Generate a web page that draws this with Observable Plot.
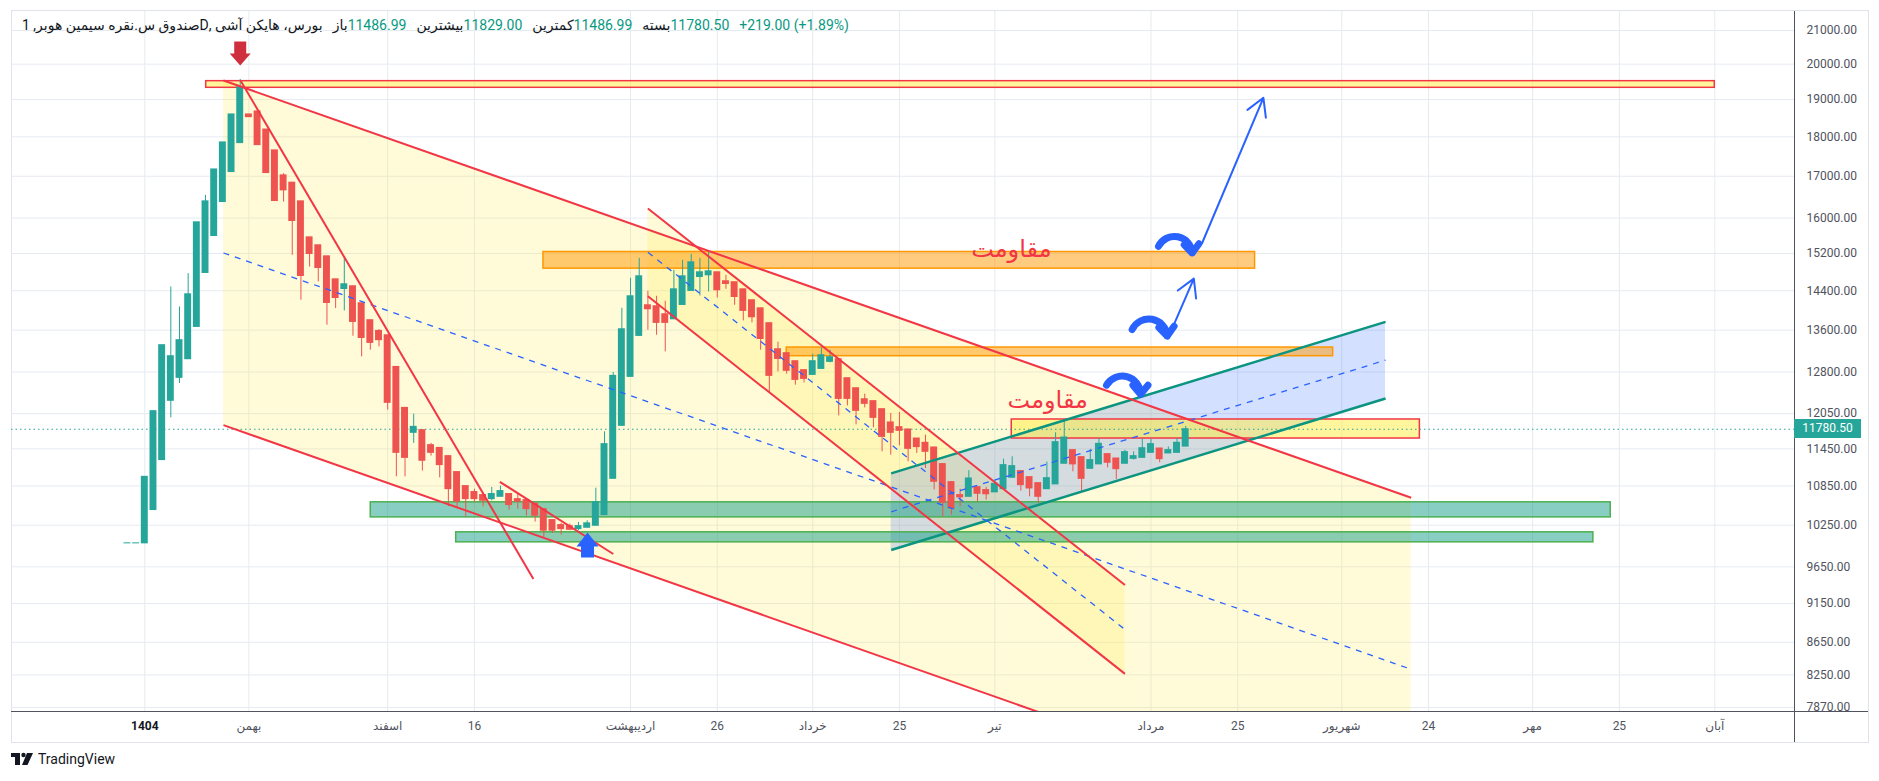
<!DOCTYPE html>
<html><head><meta charset="utf-8">
<script src="https://cdn.jsdelivr.net/npm/d3@7"></script>
<script src="https://cdn.jsdelivr.net/npm/@observablehq/plot@0.6"></script>
<style>
body{margin:0;background:#fff;}
#wrap{position:relative;width:1879px;height:781px;background:#fff;overflow:hidden;font-family:Roboto,'DejaVu Sans',sans-serif;}
#frame{position:absolute;left:11px;top:10px;width:1858px;height:733px;border:1px solid #e0e3eb;box-sizing:border-box;}
#chart{position:absolute;left:0;top:0;}
#vaxis{position:absolute;left:1794px;top:11px;width:1px;height:731px;background:#50535e;}
#haxis{position:absolute;left:11px;top:711px;width:1857px;height:1px;background:#50535e;}
#header{position:absolute;left:22px;top:17px;font-size:14px;line-height:17px;color:#131722;white-space:nowrap;display:flex;}
#header .v{color:#089981;}
#header .g{margin-left:10px;}
#price{position:absolute;left:1794px;width:67px;height:19px;background:#26a69a;color:#fff;font-size:12px;line-height:19px;text-align:center;}
#footer{position:absolute;left:11px;top:751px;display:flex;align-items:center;font-size:14px;color:#131722;}
</style></head>
<body>
<div id="wrap">
  <div id="frame"></div>
  <div id="chart"></div>
  <div id="vaxis"></div>
  <div id="haxis"></div>
  <div id="header">
    <span dir="rtl">بورس، هایکن آشی ,Dصندوق س.نقره سیمین هوبر, 1</span>
    <span class="g">باز</span><span class="v" id="hOpen"></span>
    <span class="g">بیشترین</span><span class="v" id="hHigh"></span>
    <span class="g">کمترین</span><span class="v" id="hLow"></span>
    <span class="g">بسته</span><span class="v" id="hClose"></span>
    <span class="g v" id="hChange"></span>
  </div>
  <div id="price"></div>
  <div id="footer">
    <svg width="24" height="14" viewBox="0 0 24 14"><rect x="0" y="1" width="9" height="4" fill="#131722"/><rect x="4" y="1" width="5" height="12" fill="#131722"/><circle cx="12.5" cy="3" r="2.2" fill="#131722"/><path d="M16 1 L22 1 L16.5 13 L11 13 Z" fill="#131722"/></svg>
    <span style="margin-left:3px">TradingView</span>
  </div>
</div>
<script>
// ---- Data ----
const firstIndex = -2;
const candleOpen = [9984,9984,
 9984,10478,11265,12276,12691,13039,13664,14776,15589,16376,
 17104,17837,18594,18675,18192,17650,17022,16843,16393,15559,
 15381,15137,14640,14436,14494,14141,13798,13585,13500,12894,
 12151,11719,11765,11512,11466,11330,11071,10848,10755,10708,
 10645,10681,10724,10645,10631,10574,10492,10327,10252,10237,
 10192,10212,10242,10402,10963,11838,12709,13487,14100,14080,
 13918,13816,14106,14396,14690,14726,14791,14600,14579,14430,
 14203,14038,13738,13229,13154,13002,12834,12746,12857,12989,
 13039,12685,12502,12304,12270,12128,11897,11816,11776,11623,
 11551,11473,11200,10911,10708,10681,10832,10786,10750,10800,
 10979,11087,10990,10895,10800,10875,11205,11429,11313,11123,
 11195,11363,11291,11205,11285,11301,11384,11456,11374,11384,
 11486.99];
const candleHigh = [9984,9984,
 10995,12093,13307,14479,14065,14763,15902,16535,17169,17855,
 18594,19560,18594,18675,18192,17650,17064,16843,16393,15559,
 15381,15137,14640,15122,14494,14141,13798,13613,13500,12894,
 12151,12041,11765,11541,11466,11330,11071,10848,10800,10708,
 10827,10848,10724,10720,10631,10574,10492,10327,10278,10267,
 10292,10317,10816,11736,12791,14038,14662,15093,14389,14285,
 14182,14834,15050,15181,15093,15226,14791,14726,14579,14430,
 14203,14038,13738,13365,13154,13002,12834,13134,13254,13211,
 13039,12685,12502,12395,12270,12128,12053,12071,11776,11623,
 11680,11473,11200,10911,10800,11092,10832,10827,10943,11280,
 11318,11087,10990,10895,11232,11719,11948,11429,11313,11440,
 11623,11363,11291,11429,11401,11611,11607,11456,11483,11623,
 11829];
const candleLow = [9984,9984,
 9984,10478,11265,11976,12589,13039,13664,14776,15589,16376,
 17104,17837,18521,17785,17079,16400,16376,15159,14203,14904,
 14585,13698,14032,13985,13481,13083,13211,13274,12111,10995,
 10995,11541,11087,11330,10979,10528,10503,10376,10589,10528,
 10620,10681,10478,10492,10387,10297,10071,10130,10105,10169,
 10169,10212,10242,10402,10963,11838,12709,13487,13599,13500,
 13178,13816,14106,14396,14291,14374,14249,14430,14100,13784,
 13744,13211,12418,12802,12760,12557,12599,12746,12857,12970,
 12011,12186,11856,12151,11804,11401,11346,11500,11237,11374,
 11129,10786,10376,10402,10528,10681,10605,10631,10750,10800,
 10979,10770,10681,10580,10800,10875,11205,11076,10759,11123,
 11195,11139,10953,11205,11265,11301,11384,11221,11374,11384,
 11486.99];
const candleClose = [9984,9984,
 10995,12093,13307,13096,13404,14326,15902,16393,17169,17855,
 18594,19343,18521,17785,17079,16400,16656,15932,14711,15188,
 14882,14147,14249,14536,13764,13447,13351,13404,12240,11384,
 11301,11821,11254,11384,11183,10800,10605,10645,10645,10620,
 10724,10770,10554,10605,10492,10391,10169,10169,10192,10182,
 10237,10278,10600,11529,12728,13618,14285,14705,14018,13744,
 13744,14430,14705,15006,14791,14812,14410,14542,14270,13985,
 13857,13427,12728,13044,12821,12654,12672,13002,13115,13077,
 12310,12310,12099,12222,11976,11651,11719,11753,11450,11478,
 11401,10916,10589,10503,10672,10969,10728,10720,10884,11183,
 11167,10864,10811,10681,10974,11562,11640,11195,10963,11265,
 11534,11221,11118,11396,11330,11461,11529,11280,11429,11551,
 11780.5];
const lastChange = 219.00, lastChangePct = 1.89;

const yTicks = [7870,8250,8650,9150,9650,10250,10850,11450,12050,12800,13600,14400,15200,16000,17000,18000,19000,20000,21000];
const xTickIdx = [0,12,28,38,56,66,77,87,98,116,126,138,148,160,170,181];
const xTickLabels = ["1404","بهمن","اسفند","16","اردیبهشت","26","خرداد","25","تیر","مرداد","25","شهریور","24","مهر","25","آبان"];

// drawings, in bar index / price units
const channelYellow1 = [{x:9.07, top:19533, bottom:11850},{x:146.0, top:10666, bottom:6464}];
const channelYellow2 = [{x:58, top:16224, bottom:14285},{x:113, top:9399, bottom:8263}];
const channelBlue = [{x:86.05, top:11050, bottom:9888},{x:143.04, top:13764, bottom:12317}];
const redLines = [
  {x1:9.07,y1:19533,x2:146.0,y2:10666},
  {x1:9.07,y1:11850,x2:146.0,y2:6464},
  {x1:11.03,y1:19533,x2:44.8,y2:9481},
  {x1:40.93,y1:10916,x2:54.01,y2:9831},
  {x1:58,y1:16224,x2:113,y2:9399},
  {x1:58,y1:14285,x2:113,y2:8263}
];
const dashedLines = [
  {x1:9.07,y1:15210,x2:146.0,y2:8318},
  {x1:58,y1:15226,x2:113,y2:8812},
  {x1:86.05,y1:10452,x2:143.04,y2:13021}
];
const tealLines = [
  {x1:86.05,y1:11050,x2:143.04,y2:13764},
  {x1:86.05,y1:9888,x2:143.04,y2:12317}
];
const yellowZones = [{x1:7.08,x2:181.0,y1:19326,y2:19513},{x1:99.95,x2:147.0,y1:11623,y2:11948}];
const orangeZones = [{x1:45.96,x2:128.0,y1:14869,y2:15232},{x1:74.0,x2:137.0,y1:13096,y2:13262}];
const greenZones = [{x1:26.05,x2:169.0,y1:10367,y2:10596},{x1:35.9,x2:167.0,y1:9999,y2:10145}];
const straightArrows = [{x1:121.9,y1:15432,x2:128.96,y2:19048},{x1:117.94,y1:13435,x2:120.94,y2:14655}];
const curvedArrows = [{x1:116.87,y1:15358,x2:120.75,y2:15210},{x1:113.83,y1:13613,x2:117.87,y2:13487},{x1:110.87,y1:12557,x2:114.79,y2:12395}];
const resistanceLabels = [{x:99.9,y:15291,text:"مقاومت"},{x:104.1,y:12288,text:"مقاومت"}];
const sellMarker = [{x:11,y:20311}];
const buyMarker = [{x:51.04,y:9959}];

// ---- build ----
const candles = candleOpen.map((o,k)=>({i:firstIndex+k,o,h:candleHigh[k],l:candleLow[k],c:candleClose[k]}));
const up = d => d.c >= d.o;
const GREEN="#26a69a", RED="#ef5350", LRED="#f23645";
const last = candles[candles.length-1];

const arrowDownSym = {draw(ctx){ctx.moveTo(-6,-12);ctx.lineTo(6,-12);ctx.lineTo(6,0);ctx.lineTo(10.5,0);ctx.lineTo(0,12);ctx.lineTo(-10.5,0);ctx.lineTo(-6,0);ctx.closePath();}};
const arrowUpSym = {draw(ctx){ctx.moveTo(-6.5,12.5);ctx.lineTo(6.5,12.5);ctx.lineTo(6.5,1.5);ctx.lineTo(11,1.5);ctx.lineTo(0,-12.5);ctx.lineTo(-11,1.5);ctx.lineTo(-6.5,1.5);ctx.closePath();}};

const W=1879, H=745, ML=11, MR=85, MT=11, MB=34;
const step = 8.674, x0px = 144.3;
const xDomain = [(ML - x0px)/step, (W-MR - x0px)/step];
const labelOf = new Map(xTickIdx.map((d,k)=>[d,xTickLabels[k]]));

const chart = Plot.plot({
  width:W, height:H, marginLeft:ML, marginRight:MR, marginTop:MT, marginBottom:MB,
  style:{fontFamily:"Roboto,'DejaVu Sans',sans-serif", fontSize:"12px", background:"transparent", overflow:"visible"},
  x:{type:"linear", domain:xDomain, axis:null},
  y:{type:"log", domain:[7824,21587], axis:null},
  marks:[
    Plot.gridX(xTickIdx,{stroke:"#e6ebf1", strokeOpacity:1}),
    Plot.gridY(yTicks,{stroke:"#e6ebf1", strokeOpacity:1}),
    Plot.areaY(channelYellow1,{x:"x", y1:"top", y2:"bottom", fill:"rgba(255,235,59,0.2)", clip:true}),
    Plot.areaY(channelYellow2,{x:"x", y1:"top", y2:"bottom", fill:"rgba(255,235,59,0.2)", clip:true}),
    Plot.areaY(channelBlue,{x:"x", y1:"top", y2:"bottom", fill:"rgba(41,98,255,0.2)", clip:true}),
    Plot.rect(greenZones,{x1:"x1",x2:"x2",y1:"y1",y2:"y2", fill:"rgba(8,153,129,0.48)", stroke:"#4caf50", strokeWidth:1.5}),
    Plot.rect(orangeZones,{x1:"x1",x2:"x2",y1:"y1",y2:"y2", fill:"rgba(255,152,0,0.5)", stroke:"#ff9800", strokeWidth:1.5}),
    Plot.rect(yellowZones,{x1:"x1",x2:"x2",y1:"y1",y2:"y2", fill:"rgba(255,235,59,0.5)", stroke:LRED, strokeWidth:1.5}),
    Plot.ruleY([last.c],{stroke:GREEN, strokeWidth:1.2, strokeDasharray:"1.5,3"}),
    Plot.ruleX(candles,{x:"i", y1:"l", y2:"h", stroke:d=>up(d)?GREEN:RED, strokeWidth:1}),
    Plot.rect(candles,{x1:d=>d.i-0.4, x2:d=>d.i+0.4, y1:"o", y2:"c", fill:d=>up(d)?GREEN:RED, insetTop:-0.5, insetBottom:-0.5}),
    Plot.link(tealLines,{x1:"x1",y1:"y1",x2:"x2",y2:"y2", stroke:"#0b9480", strokeWidth:2.5, clip:true}),
    Plot.link(dashedLines,{x1:"x1",y1:"y1",x2:"x2",y2:"y2", stroke:"#2962ff", strokeWidth:1.3, strokeDasharray:"6,6", clip:true}),
    Plot.link(redLines,{x1:"x1",y1:"y1",x2:"x2",y2:"y2", stroke:LRED, strokeWidth:2, clip:true}),
    Plot.arrow(straightArrows,{x1:"x1",y1:"y1",x2:"x2",y2:"y2", stroke:"#2962ff", strokeWidth:2, headLength:15, insetStart:0, insetEnd:0}),
    Plot.arrow(curvedArrows,{x1:"x1",y1:"y1",x2:"x2",y2:"y2", stroke:"#2962ff", strokeWidth:7, bend:75, headLength:13, headAngle:80, insetStart:0, insetEnd:0}),
    Plot.dot(sellMarker,{x:"x",y:"y", symbol:arrowDownSym, r:10, fill:"#cf2e3e", stroke:"none"}),
    Plot.dot(buyMarker,{x:"x",y:"y", symbol:arrowUpSym, r:10, fill:"#2962ff", stroke:"none"}),
    Plot.text(resistanceLabels,{x:"x",y:"y",text:"text", fill:LRED, fontSize:24, fontFamily:"'DejaVu Sans',sans-serif"}),
    Plot.axisY(yTicks,{anchor:"right", tickSize:0, tickPadding:12, tickFormat:d=>d.toFixed(2), fill:"#50535e", fontSize:12}),
    Plot.axisX(xTickIdx,{anchor:"bottom", tickSize:0, tickPadding:10, tickFormat:d=>labelOf.get(d), fill:"#50535e", fontSize:12})
  ]
});
document.getElementById("chart").append(chart);
d3.select(chart).selectAll("text").filter(function(){return this.textContent==="1404";}).attr("font-weight","bold").attr("fill","#131722");

const yScale = chart.scale("y");
const py = yScale.apply(last.c);
const priceDiv = document.getElementById("price");
priceDiv.style.top = (py-9.5)+"px";
priceDiv.textContent = last.c.toFixed(2);

document.getElementById("hOpen").textContent = last.o.toFixed(2);
document.getElementById("hHigh").textContent = last.h.toFixed(2);
document.getElementById("hLow").textContent = last.l.toFixed(2);
document.getElementById("hClose").textContent = last.c.toFixed(2);
document.getElementById("hChange").textContent = "+" + lastChange.toFixed(2) + " (+" + lastChangePct.toFixed(2) + "%)";
</script>
</body></html>
